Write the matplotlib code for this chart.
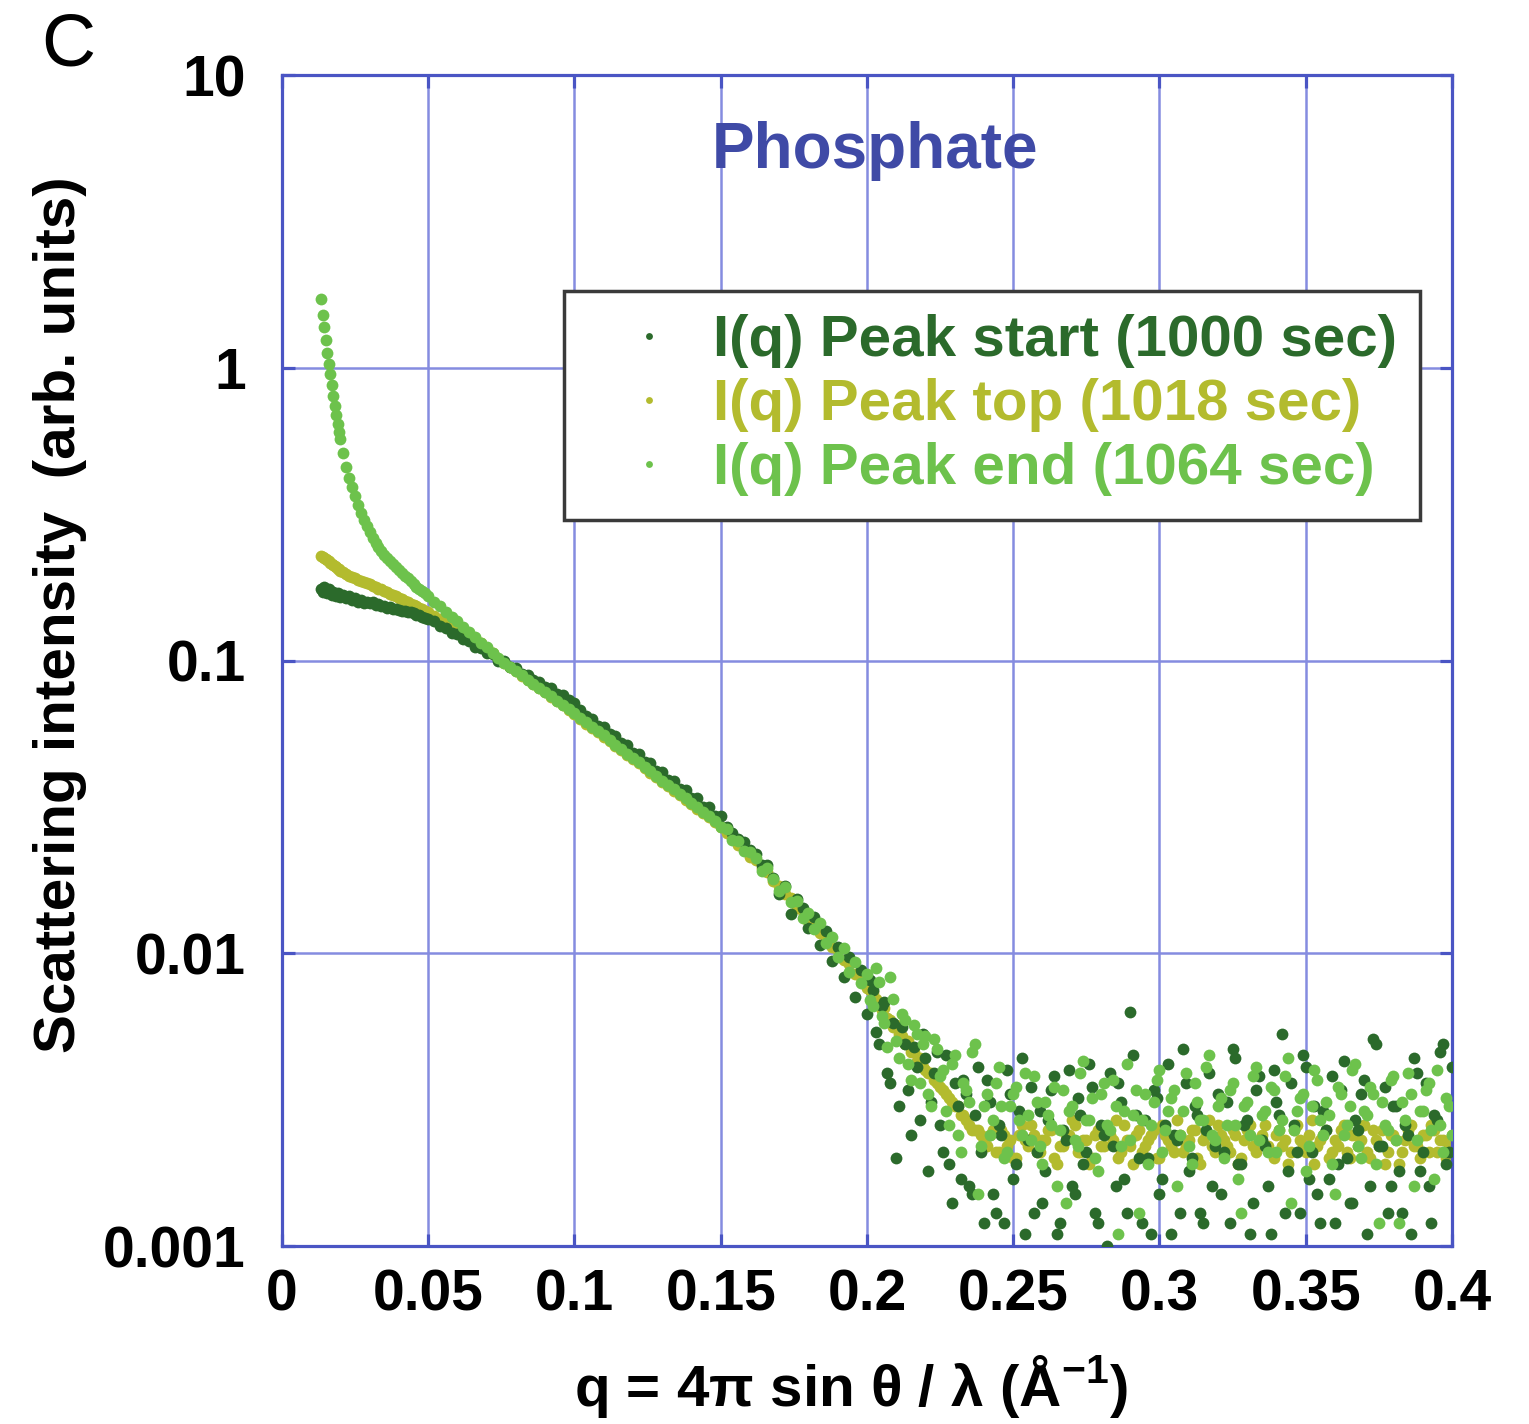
import matplotlib
matplotlib.use("Agg")
import matplotlib.pyplot as plt
from matplotlib.ticker import NullLocator

plt.rcParams['font.family'] = ['Liberation Sans', 'DejaVu Sans']
plt.rcParams['mathtext.fontset'] = 'custom'
plt.rcParams['mathtext.rm'] = 'Liberation Sans:bold'
plt.rcParams['mathtext.bf'] = 'Liberation Sans:bold'

# scattering vector q (1/A), shared by the three frames
q_low = [0.0135, 0.014, 0.0145, 0.015, 0.0155, 0.016, 0.0165, 0.017, 0.0175, 0.018, 0.0185, 0.019, 0.0195,
         0.020, 0.021, 0.022, 0.023, 0.024, 0.025, 0.026, 0.027, 0.028, 0.029,
         0.030, 0.031, 0.032, 0.033, 0.034, 0.035, 0.036, 0.037, 0.038, 0.039,
         0.040, 0.041, 0.042, 0.043, 0.044, 0.045, 0.046, 0.047, 0.048, 0.049]
q_high = [0.050, 0.052, 0.054, 0.056, 0.058, 0.060, 0.062, 0.064, 0.066, 0.068,
          0.070, 0.072, 0.074, 0.076, 0.078, 0.080, 0.082, 0.084, 0.086, 0.088,
          0.090, 0.092, 0.094, 0.096, 0.098, 0.100, 0.102, 0.104, 0.106, 0.108,
          0.110, 0.112, 0.114, 0.116, 0.118, 0.120, 0.122, 0.124, 0.126, 0.128,
          0.130, 0.132, 0.134, 0.136, 0.138, 0.140, 0.142, 0.144, 0.146, 0.148,
          0.150, 0.152, 0.154, 0.156, 0.158, 0.160, 0.162, 0.164, 0.166, 0.168,
          0.170, 0.172, 0.174, 0.176, 0.178, 0.180, 0.182, 0.184, 0.186, 0.188,
          0.190, 0.192, 0.194, 0.196, 0.198, 0.200, 0.202, 0.204, 0.206, 0.208,
          0.210, 0.212, 0.214, 0.216, 0.218, 0.220, 0.222, 0.224, 0.226, 0.228,
          0.230, 0.232, 0.234, 0.236, 0.238, 0.240, 0.242, 0.244, 0.246, 0.248,
          0.250, 0.252, 0.254, 0.256, 0.258, 0.260, 0.262, 0.264, 0.266, 0.268,
          0.270, 0.272, 0.274, 0.276, 0.278, 0.280, 0.282, 0.284, 0.286, 0.288,
          0.290, 0.292, 0.294, 0.296, 0.298, 0.300, 0.302, 0.304, 0.306, 0.308,
          0.310, 0.312, 0.314, 0.316, 0.318, 0.320, 0.322, 0.324, 0.326, 0.328,
          0.330, 0.332, 0.334, 0.336, 0.338, 0.340, 0.342, 0.344, 0.346, 0.348,
          0.350, 0.352, 0.354, 0.356, 0.358, 0.360, 0.362, 0.364, 0.366, 0.368,
          0.370, 0.372, 0.374, 0.376, 0.378, 0.380, 0.382, 0.384, 0.386, 0.388,
          0.390, 0.392, 0.394, 0.396, 0.398, 0.400]
# in-between frames of the noisy high-q tail
q_odd = [0.201, 0.203, 0.205, 0.207, 0.209, 0.211, 0.213, 0.215, 0.217, 0.219,
         0.221, 0.223, 0.225, 0.227, 0.229, 0.231, 0.233, 0.235, 0.237, 0.239,
         0.241, 0.243, 0.245, 0.247, 0.249, 0.251, 0.253, 0.255, 0.257, 0.259,
         0.261, 0.263, 0.265, 0.267, 0.269, 0.271, 0.273, 0.275, 0.277, 0.279,
         0.281, 0.283, 0.285, 0.287, 0.289, 0.291, 0.293, 0.295, 0.297, 0.299,
         0.301, 0.303, 0.305, 0.307, 0.309, 0.311, 0.313, 0.315, 0.317, 0.319,
         0.321, 0.323, 0.325, 0.327, 0.329, 0.331, 0.333, 0.335, 0.337, 0.339,
         0.341, 0.343, 0.345, 0.347, 0.349, 0.351, 0.353, 0.355, 0.357, 0.359,
         0.361, 0.363, 0.365, 0.367, 0.369, 0.371, 0.373, 0.375, 0.377, 0.379,
         0.381, 0.383, 0.385, 0.387, 0.389, 0.391, 0.393, 0.395, 0.397, 0.399]
q = q_low + q_high + q_odd

# I(q) peak start (1000 sec)
I_start = [0.176, 0.172, 0.178, 0.174, 0.170, 0.175, 0.171, 0.168, 0.172, 0.169, 0.166, 0.170, 0.167,
           0.165, 0.168, 0.163, 0.166, 0.161, 0.163, 0.159, 0.161, 0.157, 0.158,
           0.157, 0.158, 0.155, 0.156, 0.153, 0.154, 0.151, 0.152, 0.150, 0.150,
           0.149, 0.148, 0.148, 0.146, 0.146, 0.145, 0.143, 0.143, 0.141, 0.140,
           0.139, 0.136, 0.131, 0.129, 0.124, 0.123, 0.118, 0.117, 0.111, 0.110,
           0.106, 0.105, 0.100, 0.0994, 0.0950, 0.0942, 0.0902, 0.0893, 0.0856, 0.0847,
           0.0812, 0.0804, 0.0770, 0.0762, 0.0731, 0.0715,
           0.0680, 0.0645, 0.0633, 0.0599, 0.0592, 0.0559, 0.0552, 0.0521, 0.0514, 0.0485,
           0.0479, 0.0451, 0.0447, 0.0421, 0.0417, 0.0391, 0.0389, 0.0364, 0.0362, 0.0340,
           0.0338, 0.0315, 0.0316, 0.0294, 0.0295,
           0.0270, 0.0258, 0.0245, 0.0239, 0.0225, 0.0218, 0.0200, 0.0201, 0.0181,
           0.0159, 0.0170, 0.0136, 0.0153, 0.0143, 0.0122, 0.0133, 0.0107, 0.0119, 0.0094,
           0.0105, 0.0083, 0.0097, 0.0071, 0.0088, 0.0062, 0.0075, 0.0049, 0.0068, 0.0036,
           0.0020, 0.0056, 0.0034, 0.0048, 0.0027, 0.0044, 0.0031, 0.0046, 0.0021, 0.0019,
           0.0036, 0.0017, 0.0033, 0.0015, 0.0041, 0.0012,
           0.0031, 0.0013, 0.0024, 0.0040, 0.0017, 0.0029, 0.0011, 0.0035, 0.0021, 0.0014,
           0.0027, 0.0038, 0.0012, 0.0023, 0.0016, 0.0032, 0.0019, 0.0042, 0.0013, 0.0026,
           0.0010, 0.0022, 0.0036, 0.0017, 0.0063, 0.0028, 0.0012, 0.0020, 0.0034, 0.0015,
           0.0026, 0.0011, 0.0023, 0.0047, 0.0018, 0.0030, 0.0013, 0.0025, 0.0016, 0.0033,
           0.0021, 0.0012, 0.0044, 0.0019, 0.0027, 0.0014, 0.0038, 0.0022, 0.0011, 0.0031,
           0.0053, 0.0018, 0.0026, 0.0013, 0.0041, 0.0021, 0.0015, 0.0029, 0.0017, 0.0012,
           0.0034, 0.0020, 0.0014, 0.0025, 0.0037, 0.0016, 0.0049, 0.0022, 0.0013, 0.0030,
           0.0018, 0.0026, 0.0011, 0.0039, 0.0021, 0.0016, 0.0028, 0.0046, 0.0019, 0.0041,
           # q_odd
           0.0081, 0.0054, 0.0066, 0.0039, 0.0058, 0.0030, 0.0049, 0.0024, 0.0041, 0.0053,
           0.0018, 0.0039, 0.0026, 0.0045, 0.0014, 0.0030, 0.0037, 0.0016, 0.0028, 0.0021,
           0.0037, 0.0015, 0.0026, 0.0012, 0.0033, 0.0019, 0.0044, 0.0023, 0.0013, 0.0029,
           0.0018, 0.0034, 0.0011, 0.0025, 0.0040, 0.0015, 0.0028, 0.0021, 0.0035, 0.0012,
           0.0024, 0.0039, 0.0016, 0.0031, 0.0013, 0.0045, 0.0020, 0.0027, 0.0011, 0.0032,
           0.0017, 0.0042, 0.0024, 0.0013, 0.0036, 0.0020, 0.0028, 0.0012, 0.0039, 0.0022,
           0.0015, 0.0031, 0.0047, 0.0019, 0.0026, 0.0011, 0.0034, 0.0023, 0.0016, 0.0040,
           0.0028, 0.0013, 0.0036, 0.0021, 0.0045, 0.0017, 0.0030, 0.0012, 0.0025, 0.0038,
           0.0019, 0.0043, 0.0014, 0.0027, 0.0033, 0.0011, 0.0051, 0.0022, 0.0035, 0.0016,
           0.0030, 0.0013, 0.0024, 0.0044, 0.0018, 0.0036, 0.0012, 0.0027, 0.0049, 0.0021]

# I(q) peak top (1018 sec)
I_top = [0.228, 0.226, 0.224, 0.222, 0.220, 0.218, 0.216, 0.214, 0.212, 0.210, 0.208, 0.206, 0.205,
         0.203, 0.200, 0.197, 0.195, 0.193, 0.191, 0.189, 0.187, 0.185, 0.184,
         0.182, 0.180, 0.178, 0.176, 0.175, 0.173, 0.171, 0.169, 0.167, 0.166,
         0.164, 0.162, 0.160, 0.158, 0.156, 0.155, 0.153, 0.151, 0.150, 0.148,
         0.146, 0.142, 0.139, 0.135, 0.132, 0.129, 0.126, 0.123, 0.119,
         0.115, 0.110, 0.106, 0.101, 0.0980, 0.0950, 0.0918, 0.0888, 0.0859, 0.0831,
         0.0803, 0.0778, 0.0753, 0.0728, 0.0704, 0.0680, 0.0659,
         0.0632, 0.0609, 0.0588, 0.0568, 0.0549, 0.0530, 0.0511, 0.0494, 0.0476, 0.0460,
         0.0445, 0.0429, 0.0414, 0.0400, 0.0385, 0.0372, 0.0359, 0.0347, 0.0335, 0.0324,
         0.0312, 0.0301, 0.0291, 0.0280, 0.0271,
         0.0258, 0.0250, 0.0235, 0.0229, 0.0214, 0.0208, 0.0195, 0.0189, 0.0176,
         0.0170, 0.0159, 0.0154, 0.0143, 0.0139, 0.0129, 0.0126, 0.0117, 0.0114, 0.0105,
         0.0103, 0.0095, 0.0092, 0.0085, 0.0083, 0.0076, 0.0074, 0.0067, 0.0065, 0.0059,
         0.0057, 0.0052, 0.0050, 0.0046, 0.0044, 0.0040, 0.0039, 0.0036, 0.0034, 0.0032,
         0.0030, 0.0028, 0.0027, 0.0025, 0.0025, 0.0023,
         0.0024, 0.0021, 0.0025, 0.0022, 0.0020, 0.0024, 0.0023, 0.0026, 0.0021, 0.0023,
         0.0025, 0.0020, 0.0022, 0.0024, 0.0027, 0.0021, 0.0023, 0.0019, 0.0024, 0.0022,
         0.0025, 0.0023, 0.0020, 0.0026, 0.0022, 0.0024, 0.0021, 0.0023, 0.0025, 0.0020,
         0.0024, 0.0022, 0.0027, 0.0021, 0.0023, 0.0025, 0.0019, 0.0024, 0.0022, 0.0026,
         0.0023, 0.0021, 0.0024, 0.0020, 0.0025, 0.0022, 0.0023, 0.0026, 0.0021, 0.0024,
         0.0022, 0.0019, 0.0025, 0.0023, 0.0021, 0.0027, 0.0022, 0.0024, 0.0020, 0.0023,
         0.0025, 0.0021, 0.0024, 0.0022, 0.0026, 0.0020, 0.0023, 0.0025, 0.0021, 0.0024,
         0.0019, 0.0023, 0.0026, 0.0022, 0.0024, 0.0021, 0.0025, 0.0023, 0.0020, 0.0024,
         # q_odd
         0.0075, 0.0070, 0.0064, 0.0060, 0.0056, 0.0053, 0.0049, 0.0046, 0.0043, 0.0041,
         0.0039, 0.0037, 0.0035, 0.0033, 0.0031, 0.0030, 0.0028, 0.0026, 0.0025, 0.0024,
         0.0022, 0.0025, 0.0021, 0.0024, 0.0023, 0.0020, 0.0026, 0.0022, 0.0024, 0.0021,
         0.0023, 0.0025, 0.0019, 0.0022, 0.0024, 0.0026, 0.0021, 0.0023, 0.0020, 0.0025,
         0.0022, 0.0024, 0.0027, 0.0021, 0.0023, 0.0019, 0.0025, 0.0022, 0.0024, 0.0020,
         0.0026, 0.0023, 0.0021, 0.0024, 0.0022, 0.0025, 0.0020, 0.0023, 0.0027, 0.0021,
         0.0024, 0.0022, 0.0025, 0.0019, 0.0023, 0.0026, 0.0021, 0.0024, 0.0022, 0.0020,
         0.0025, 0.0023, 0.0021, 0.0026, 0.0022, 0.0024, 0.0019, 0.0023, 0.0025, 0.0021,
         0.0022, 0.0026, 0.0020, 0.0024, 0.0023, 0.0021, 0.0025, 0.0022, 0.0019, 0.0024,
         0.0023, 0.0021, 0.0025, 0.0022, 0.0020, 0.0024, 0.0026, 0.0021, 0.0023, 0.0022]

# I(q) peak end (1064 sec)
I_end = [1.72, 1.52, 1.38, 1.24, 1.12, 1.03, 0.95, 0.87, 0.80, 0.74, 0.69, 0.645, 0.605,
         0.57, 0.51, 0.46, 0.42, 0.39, 0.365, 0.34, 0.32, 0.303, 0.288,
         0.275, 0.263, 0.253, 0.244, 0.236, 0.229, 0.224, 0.219, 0.214, 0.209,
         0.204, 0.199, 0.195, 0.191, 0.187, 0.183, 0.179, 0.176, 0.173, 0.170,
         0.166, 0.159, 0.153, 0.147, 0.141, 0.136, 0.130, 0.125, 0.120, 0.115,
         0.111, 0.106, 0.102, 0.0984, 0.0953, 0.0921, 0.0891, 0.0861, 0.0834, 0.0805,
         0.0780, 0.0755, 0.0730, 0.0706, 0.0682, 0.0661, 0.0638, 0.0615, 0.0594, 0.0574,
         0.0555, 0.0535, 0.0516, 0.0499, 0.0481, 0.0465, 0.0449, 0.0433, 0.0418, 0.0404,
         0.0389, 0.0376, 0.0363, 0.0350, 0.0338, 0.0327, 0.0315, 0.0304, 0.0294, 0.0283,
         0.0271, 0.0266, 0.0244, 0.0242, 0.0223, 0.0221, 0.0212, 0.0191, 0.0195, 0.0180,
         0.0163, 0.0168, 0.0150, 0.0151, 0.0132, 0.0137, 0.0121, 0.0127, 0.0108, 0.0114,
         0.0097, 0.0104, 0.0086, 0.0093, 0.0079, 0.0085, 0.0066, 0.0080, 0.0058, 0.0083,
         0.0050, 0.0062, 0.0042, 0.0057, 0.0036, 0.0052, 0.0030, 0.0047, 0.0040, 0.0026,
         0.0045, 0.0021, 0.0034, 0.0046, 0.0015, 0.0030,
         0.0024, 0.0036, 0.0030, 0.0021, 0.0033, 0.0027, 0.0039, 0.0023, 0.0031, 0.0019,
         0.0028, 0.0035, 0.0025, 0.0014, 0.0030, 0.0022, 0.0043, 0.0027, 0.0020, 0.0033,
         0.0026, 0.0037, 0.0011, 0.0029, 0.0023, 0.0034, 0.0027, 0.0019, 0.0031, 0.0040,
         0.0025, 0.0032, 0.0016, 0.0029, 0.0022, 0.0036, 0.0027, 0.0041, 0.0024, 0.0030,
         0.0020, 0.0034, 0.0026, 0.0013, 0.0031, 0.0038, 0.0023, 0.0029, 0.0035, 0.0021,
         0.0027, 0.0044, 0.0025, 0.0032, 0.0018, 0.0030, 0.0037, 0.0024, 0.0028, 0.0015,
         0.0033, 0.0026, 0.0040, 0.0022, 0.0029, 0.0035, 0.0019, 0.0031, 0.0025, 0.0038,
         0.0012, 0.0027, 0.0033, 0.0023, 0.0029, 0.0036, 0.0017, 0.0026, 0.0032, 0.0024,
         # q_odd
         0.0069, 0.0089, 0.0061, 0.0048, 0.0070, 0.0044, 0.0059, 0.0037, 0.0053, 0.0049,
         0.0033, 0.0051, 0.0038, 0.0029, 0.0042, 0.0024, 0.0036, 0.0031, 0.0049, 0.0022,
         0.0033, 0.0027, 0.0041, 0.0020, 0.0030, 0.0035, 0.0024, 0.0028, 0.0038, 0.0022,
         0.0031, 0.0026, 0.0016, 0.0034, 0.0029, 0.0023, 0.0039, 0.0027, 0.0032, 0.0018,
         0.0036, 0.0025, 0.0030, 0.0022, 0.0042, 0.0028, 0.0013, 0.0033, 0.0026, 0.0037,
         0.0021, 0.0029, 0.0034, 0.0024, 0.0039, 0.0019, 0.0031, 0.0027, 0.0045, 0.0023,
         0.0032, 0.0026, 0.0036, 0.0017, 0.0030, 0.0024, 0.0041, 0.0028, 0.0021, 0.0034,
         0.0025, 0.0038, 0.0014, 0.0029, 0.0033, 0.0022, 0.0040, 0.0027, 0.0031, 0.0019,
         0.0035, 0.0024, 0.0030, 0.0042, 0.0020, 0.0028, 0.0033, 0.0012, 0.0026, 0.0037,
         0.0023, 0.0031, 0.0039, 0.0016, 0.0029, 0.0034, 0.0025, 0.0040, 0.0021, 0.0030]

labels = ['I(q) Peak start (1000 sec)', 'I(q) Peak top (1018 sec)', 'I(q) Peak end (1064 sec)']
colors = ['#2b6a2b', '#b3bb2e', '#6dc24c']

xticks = [0, 0.05, 0.1, 0.15, 0.2, 0.25, 0.3, 0.35, 0.4]
xtick_labels = ['0', '0.05', '0.1', '0.15', '0.2', '0.25', '0.3', '0.35', '0.4']
yticks = [0.001, 0.01, 0.1, 1, 10]
ytick_labels = ['0.001', '0.01', '0.1', '1', '10']

blue = '#4a55c4'
grid_blue = '#858ce0'

fig = plt.figure(figsize=(15.29, 14.24), dpi=100)
ax = fig.add_axes([0.1844, 0.125, 0.7652, 0.8223])

# draw order: top (bottom layer), start, end (top layer)
handles = {}
for key, I, z in [(1, I_top, 2), (0, I_start, 3), (2, I_end, 4)]:
    h, = ax.plot(q, I, linestyle='none', marker='o', ms=8.5, mew=0,
                 color=colors[key], label=labels[key], zorder=z)
    handles[key] = h

ax.set_yscale('log')
ax.set_xlim(0, 0.4)
ax.set_ylim(0.001, 10)
ax.set_xticks(xticks)
ax.set_xticklabels(xtick_labels)
ax.set_yticks(yticks)
ax.set_yticklabels(ytick_labels)
ax.yaxis.set_minor_locator(NullLocator())

ax.grid(True, color=grid_blue, linewidth=1.8, zorder=0)
ax.set_axisbelow(True)
for sp in ax.spines.values():
    sp.set_color(blue)
    sp.set_linewidth(2.3)
ax.tick_params(which='major', direction='in', length=9, width=2.3, color=blue,
               top=True, right=True, labelsize=41)
ax.tick_params(axis='x', pad=16)
ax.tick_params(axis='y', pad=26)
for t in ax.get_xticklabels() + ax.get_yticklabels():
    t.set_fontweight('bold')

ax.text(0.507, 0.935, 'Phosphate', transform=ax.transAxes, ha='center', va='center',
        fontsize=46, fontweight='bold', color='#3f4aa6')

order = [handles[0], handles[1], handles[2]]
leg = ax.legend(order, labels, loc='upper right',
                bbox_to_anchor=(0.973, 0.8155), borderaxespad=0,
                prop={'size': 42, 'weight': 'bold'},
                labelcolor=colors, markerscale=0.58,
                handlelength=2.1, handletextpad=0.05, borderpad=0.4, labelspacing=0.17,
                fancybox=False, framealpha=1)
leg.get_frame().set_edgecolor('#3a3a3a')
leg.get_frame().set_linewidth(2.5)

fig.text(851 / 1529, 1 - 1387 / 1424, 'q = 4π sin θ / λ (Å$^{-1}$)', ha='center', va='center',
         fontsize=42, fontweight='bold')
fig.text(60 / 1529, 1 - 615 / 1424, 'Scattering intensity  (arb. units)', ha='center', va='center',
         rotation=90, fontsize=42, fontweight='bold')
fig.text(68 / 1529, 1 - 46 / 1424, 'C', ha='center', va='center', fontsize=54)

fig.savefig('out.png', dpi=100)
